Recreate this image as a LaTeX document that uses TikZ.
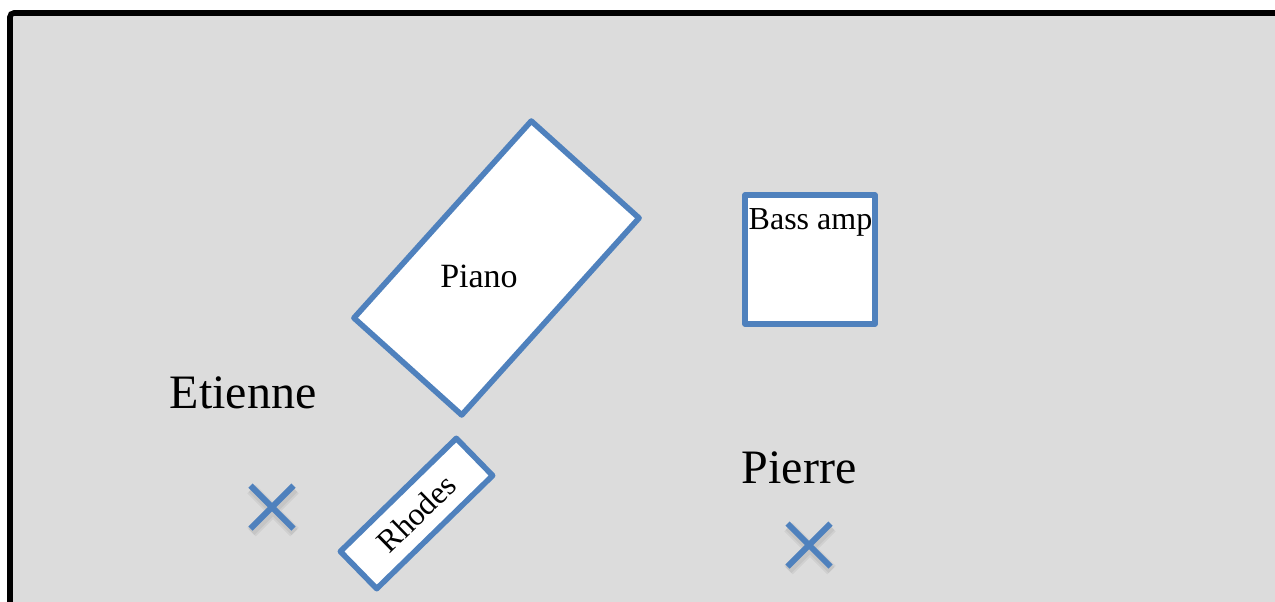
\documentclass[tikz,border=0pt]{standalone}
\usepackage{fontspec}
\setmainfont{Liberation Serif}
\definecolor{propblue}{HTML}{4F81BD}
\definecolor{floorgray}{HTML}{DCDCDC}
\tikzstyle{prop}=[draw=propblue, line width=2.8pt, fill=white, inner sep=0pt, line join=round]
\tikzstyle{player}=[font=\fontsize{24}{28}\selectfont]
\tikzstyle{tag}=[font=\fontsize{16}{19}\selectfont]
\tikzstyle{spot}=[draw=propblue, line width=3pt]
\tikzstyle{spotshadow}=[draw=black, line width=6pt, opacity=0.05]

\begin{document}
\begin{tikzpicture}[x=0.5pt, y=-0.5pt]
  \useasboundingbox (0,0) rectangle (1275,601);
  \draw[fill=floorgray, line width=2.8pt, rounded corners=2pt]
    (10,13) rectangle (1300,640);
  % props
  \node[prop, rotate=-42, minimum width=72.5pt, minimum height=132.5pt]
    (piano) at (496.5,268) {};
  \node[tag, font=\fontsize{17}{20}\selectfont, anchor=base]
    (pianotag) at (479,287) {Piano};
  \node[prop, rotate=44.3, minimum width=81pt, minimum height=26pt, tag]
    (rhodes) at (416.5,513.5) {Rhodes};
  \node[prop, minimum width=65pt, minimum height=64.5pt]
    (bassamp) at (810,259.5) {};
  \node[tag, anchor=base] (bassamptag) at (810.5,229) {Bass amp};
  % players
  \node[player, anchor=base] (etienne) at (243,408) {Etienne};
  \node[player, anchor=base] (pierre) at (799,483) {Pierre};
  \foreach \who/\x/\y in {etienne/272/507, pierre/809/545} {
    \coordinate (\who-nw) at (\x-21.5,\y-21.5);
    \coordinate (\who-ne) at (\x+21.5,\y-21.5);
    \coordinate (\who-sw) at (\x-21.5,\y+21.5);
    \coordinate (\who-se) at (\x+21.5,\y+21.5);
    \draw[spotshadow, transform canvas={xshift=0.5pt, yshift=-1.8pt}]
      (\who-nw) -- (\who-se) (\who-ne) -- (\who-sw);
    \draw[spotshadow, line width=4pt, transform canvas={xshift=0.5pt, yshift=-1.8pt}]
      (\who-nw) -- (\who-se) (\who-ne) -- (\who-sw);
    \draw[spot] (\who-nw) -- (\who-se) (\who-ne) -- (\who-sw);
  }
\end{tikzpicture}
\end{document}
